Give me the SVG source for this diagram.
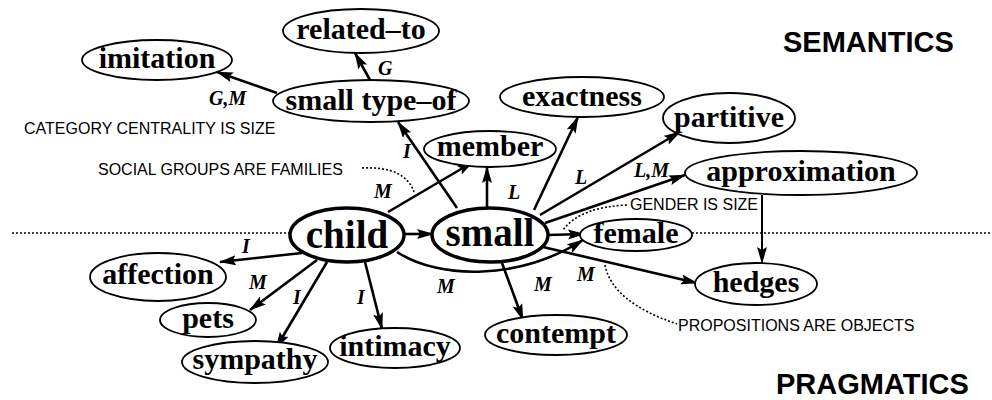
<svg xmlns="http://www.w3.org/2000/svg" width="992" height="400" viewBox="0 0 992 400">
<style>
.n ellipse{fill:#fff;stroke:#000;stroke-width:1.8}
.n.big ellipse{stroke-width:3.5}
.n text{font-family:"Liberation Serif",serif;font-weight:bold;font-size:30px;text-anchor:middle;fill:#000}
.n.big text{font-size:39px}
.e path{fill:none;stroke:#000;stroke-width:2.6}
.lb{font-family:"Liberation Serif",serif;font-weight:bold;font-style:italic;font-size:20px;fill:#000}
.ann{font-family:"Liberation Sans",Arial,sans-serif;font-size:16px;fill:#000}
.hd{font-family:"Liberation Sans",Arial,sans-serif;font-weight:bold;font-size:29px;fill:#000}
.dot{fill:none;stroke:#000;stroke-width:1.6;stroke-dasharray:2 2}
</style>
<defs>
<marker id="ar" markerUnits="userSpaceOnUse" markerWidth="18" markerHeight="12" refX="16" refY="5" orient="auto">
<path d="M0,0 L17,5 L0,10 L3,5 z" fill="#000"/>
</marker>
</defs>
<g id="dividers">
<path class="dot" d="M12 233 H290"/>
<path class="dot" d="M692 233 H992"/>
</g>
<g id="connectors" class="e">
<path d="M277 93 L217 72" marker-end="url(#ar)"/>
<path d="M370 80 L355 53" marker-end="url(#ar)"/>
<path d="M457 208 L398 122" marker-end="url(#ar)"/>
<path d="M388 212 L473 162" marker-end="url(#ar)"/>
<path d="M487 207 L487 167" marker-end="url(#ar)"/>
<path d="M534 210 L578 117" marker-end="url(#ar)"/>
<path d="M540 215 L680 132" marker-end="url(#ar)"/>
<path d="M545 223 L685 175" marker-end="url(#ar)"/>
<path d="M548 235 L584 234" marker-end="url(#ar)"/>
<path d="M405 234 L433 234" marker-end="url(#ar)"/>
<path d="M397 252 C440 280 520 280 583 240" marker-end="url(#ar)"/>
<path d="M543 247 L697 283" marker-end="url(#ar)"/>
<path d="M762 195 L762 263" style="stroke-width:2" marker-end="url(#ar)"/>
<path d="M502 263 L523 320" marker-end="url(#ar)"/>
<path d="M302 253 L220 262" marker-end="url(#ar)"/>
<path d="M317 260 L250 310" marker-end="url(#ar)"/>
<path d="M327 262 L276 348" marker-end="url(#ar)"/>
<path d="M365 262 L382 329" marker-end="url(#ar)"/>
</g>
<g id="annotation-lines">
<path class="dot" d="M362 168 Q405 166 414 192"/>
<path class="dot" d="M627 205 Q580 207 563 230"/>
<path class="dot" d="M605 265 Q612 302 677 324"/>
</g>
<g id="imitation" class="n"><ellipse cx="157" cy="60" rx="75" ry="20"/><text x="157" y="68">imitation</text></g>
<g id="related-to" class="n"><ellipse cx="361" cy="31" rx="78" ry="22"/><text x="361" y="39">related–to</text></g>
<g id="small-type-of" class="n"><ellipse cx="371" cy="101" rx="98" ry="21"/><text x="371" y="110">small type–of</text></g>
<g id="member" class="n"><ellipse cx="490" cy="149" rx="66" ry="18"/><text x="490" y="156">member</text></g>
<g id="exactness" class="n"><ellipse cx="582" cy="97" rx="82" ry="20"/><text x="582" y="106">exactness</text></g>
<g id="partitive" class="n"><ellipse cx="729" cy="118" rx="66" ry="25"/><text x="729" y="127">partitive</text></g>
<g id="approximation" class="n"><ellipse cx="801" cy="173" rx="116" ry="22"/><text x="801" y="181">approximation</text></g>
<g id="child" class="n big"><ellipse cx="347" cy="235" rx="57" ry="27"/><text x="347" y="248">child</text></g>
<g id="small" class="n big"><ellipse cx="490" cy="235" rx="58" ry="27"/><text x="490" y="246">small</text></g>
<g id="female" class="n"><ellipse cx="636" cy="235" rx="56" ry="16"/><text x="636" y="243">female</text></g>
<g id="affection" class="n"><ellipse cx="158" cy="277" rx="68" ry="24"/><text x="158" y="284">affection</text></g>
<g id="pets" class="n"><ellipse cx="208" cy="320" rx="48" ry="17"/><text x="208" y="328">pets</text></g>
<g id="sympathy" class="n"><ellipse cx="255" cy="362" rx="73" ry="21"/><text x="255" y="369">sympathy</text></g>
<g id="intimacy" class="n"><ellipse cx="395" cy="348" rx="65" ry="20"/><text x="395" y="356">intimacy</text></g>
<g id="contempt" class="n"><ellipse cx="556" cy="335" rx="71" ry="20"/><text x="556" y="343">contempt</text></g>
<g id="hedges" class="n"><ellipse cx="756" cy="284" rx="61" ry="21"/><text x="756" y="292">hedges</text></g>
<g id="edge-labels">
<text class="lb" x="209" y="105">G,M</text>
<text class="lb" x="378" y="75">G</text>
<text class="lb" x="403" y="158">I</text>
<text class="lb" x="374" y="198">M</text>
<text class="lb" x="508" y="199">L</text>
<text class="lb" x="575" y="184">L</text>
<text class="lb" x="634" y="177">L,M</text>
<text class="lb" x="242" y="253">I</text>
<text class="lb" x="249" y="289">M</text>
<text class="lb" x="293" y="304">I</text>
<text class="lb" x="357" y="304">I</text>
<text class="lb" x="437" y="293">M</text>
<text class="lb" x="534" y="291">M</text>
<text class="lb" x="577" y="281">M</text>
</g>
<g id="annotations">
<text class="ann" x="24" y="134">CATEGORY CENTRALITY IS SIZE</text>
<text class="ann" x="98" y="175">SOCIAL GROUPS ARE FAMILIES</text>
<text class="ann" x="630" y="210">GENDER IS SIZE</text>
<text class="ann" x="678" y="331">PROPOSITIONS ARE OBJECTS</text>
<text class="hd" x="783" y="52">SEMANTICS</text>
<text class="hd" x="776" y="394">PRAGMATICS</text>
</g>
</svg>
